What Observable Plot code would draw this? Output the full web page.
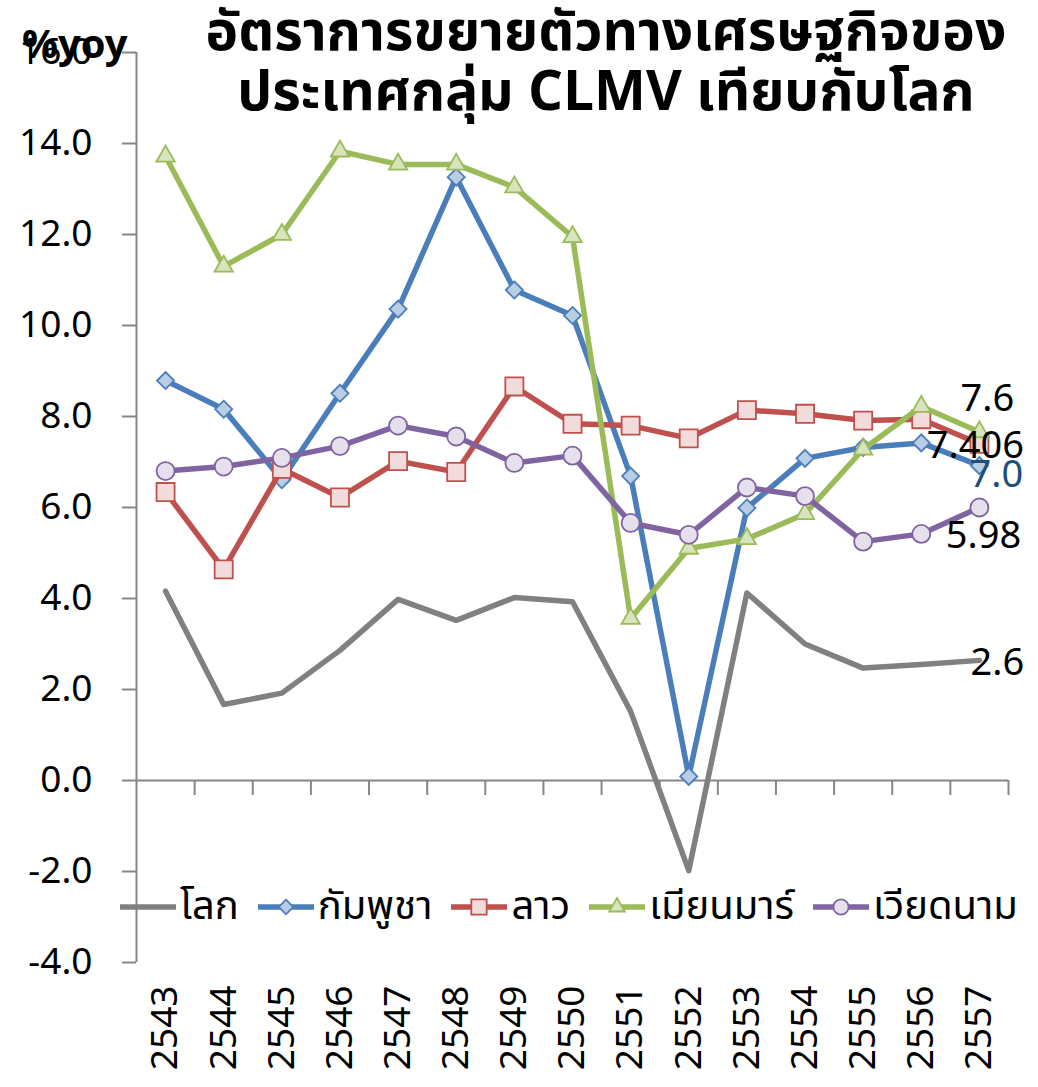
<!DOCTYPE html>
<html><head><meta charset="utf-8">
<script src="https://cdn.jsdelivr.net/npm/d3@7"></script>
<script src="https://cdn.jsdelivr.net/npm/@observablehq/plot@0.6"></script>
<style>
body{margin:0;background:#fff;}
#wrap{position:relative;width:1038px;height:1087px;overflow:hidden;font-family:"Noto Sans Thai","Noto Sans","Open Sans",sans-serif;color:#000;}
#title{position:absolute;left:156px;width:900px;top:4px;text-align:center;font-weight:bold;font-size:55px;line-height:60px;}
#unit{position:absolute;left:22px;top:19px;font-weight:bold;font-size:40px;line-height:54px;}
#legend{position:absolute;left:120px;top:882px;display:flex;align-items:center;font-size:40px;line-height:50px;white-space:nowrap;}
#legend .item{display:flex;align-items:center;margin-right:19px;}
#legend svg{display:block;margin-right:4px;}
</style></head>
<body><div id="wrap"><div id="chart"></div><div id="title"></div><div id="unit"></div><div id="legend"></div></div>
<script>
// ---- data ----
const years = [2543,2544,2545,2546,2547,2548,2549,2550,2551,2552,2553,2554,2555,2556,2557];
const world    = [4.16,1.67,1.92,2.86,3.98,3.52,4.02,3.93,1.52,-1.98,4.12,3.00,2.47,2.55,2.64];
const cambodia = [8.79,8.16,6.61,8.51,10.36,13.26,10.78,10.22,6.69,0.09,5.99,7.08,7.32,7.42,6.92];
const laos     = [6.34,4.64,6.85,6.22,7.02,6.78,8.66,7.84,7.80,7.52,8.14,8.06,7.91,7.94,7.40];
const myanmar  = [13.72,11.30,12.00,13.83,13.54,13.54,13.04,11.95,3.56,5.10,5.31,5.86,7.28,8.22,7.66];
const vietnam  = [6.80,6.90,7.09,7.35,7.80,7.56,6.98,7.14,5.66,5.40,6.44,6.25,5.25,5.42,6.00];
const seriesNames = ["โลก","กัมพูชา","ลาว","เมียนมาร์","เวียดนาม"];
const endLabels = ["2.6","7.0","7.406","7.6","5.98"];
const yTicks = [-4,-2,0,2,4,6,8,10,12,14,16];
const titleLines = ["อัตราการขยายตัวทางเศรษฐกิจของ","ประเทศกลุ่ม CLMV เทียบกับโลก"];
const unitLabel = "%yoy";

// ---- styles ----
const values = [world, cambodia, laos, myanmar, vietnam];
const styles = [
  {line:"#808080", symbol:null, lblColor:"#000", dx:18, dy:2},
  {line:"#4a7ebb", symbol:"diamond2", r:7.7, fill:"#b9cde5", stroke:"#4a7ebb", lblColor:"#1f4e79", dx:17, dy:9},
  {line:"#c0504d", symbol:"square", r:10.2, fill:"#f2dcdb", stroke:"#c0504d", lblColor:"#000", dx:-4, dy:2},
  {line:"#9bbb59", symbol:"triangle", r:6.8, fill:"#d7e4bd", stroke:"#9bbb59", lblColor:"#000", dx:8, dy:-33},
  {line:"#8064a2", symbol:"circle", r:9, fill:"#e6e0ec", stroke:"#8064a2", lblColor:"#000", dx:4, dy:28}
];

const tables = values.map((vals, s) => years.map((yr, i) => ({year: yr, value: vals[i], series: seriesNames[s]})));
const axisGray = "#868686";
const lo = years[0] - 0.5, hi = years[years.length-1] + 0.5;
const boundaries = years.map(y => y + 0.5);

const marks = [
  Plot.ruleX([lo], {stroke: axisGray, strokeWidth: 2}),
  Plot.ruleY([0], {stroke: axisGray, strokeWidth: 2}),
  Plot.ruleX(boundaries, {x: d => d, y1: 0, y2: 0, insetBottom: -15, stroke: axisGray, strokeWidth: 2}),
  Plot.ruleY(yTicks, {y: d => d, x1: lo, x2: lo, insetLeft: -14, stroke: axisGray, strokeWidth: 2}),
  Plot.axisY({ticks: yTicks, tickFormat: d => d.toFixed(1), tickSize: 0, tickPadding: 44, fontSize: 37, fill: "#000", label: null}),
  Plot.axisX({ticks: years, tickFormat: d => String(d), tickRotate: -90, tickSize: 0, tickPadding: 23, fontSize: 37, fill: "#000", label: null})
];
tables.forEach((t, s) => {
  const st = styles[s];
  marks.push(Plot.line(t, {x: "year", y: "value", stroke: st.line, strokeWidth: 5.5, strokeLinejoin: "round", strokeLinecap: "round"}));
  if (st.symbol) marks.push(Plot.dot(t, {x: "year", y: "value", symbol: () => st.symbol, r: st.r, fill: st.fill, stroke: st.stroke, strokeWidth: 1.8}));
});
tables.forEach((t, s) => {
  const st = styles[s];
  marks.push(Plot.text([t[t.length-1]], {x: "year", y: "value", text: () => endLabels[s], fill: st.lblColor, fontSize: 38, dx: st.dx, dy: st.dy}));
});

const chart = Plot.plot({
  width: 1038, height: 1087,
  marginTop: 52, marginBottom: 125, marginLeft: 136, marginRight: 30,
  style: {fontFamily: '"Noto Sans Thai","Open Sans","Noto Sans",sans-serif', background: "#fff", overflow: "visible"},
  x: {domain: [lo, hi], axis: null},
  y: {domain: [-4, 16], axis: null},
  symbol: {type: "identity"},
  marks
});
document.getElementById("chart").appendChild(chart);

document.getElementById("title").innerHTML = titleLines.map(l => `<div>${l}</div>`).join("");
document.getElementById("unit").textContent = unitLabel;

// legend
const legend = document.getElementById("legend");
const symbolTypes = {diamond2: d3.symbolDiamond2, square: d3.symbolSquare, triangle: d3.symbolTriangle, circle: d3.symbolCircle};
const symPath = (name, r) => d3.symbol(symbolTypes[name], Math.PI * r * r)();
seriesNames.forEach((name, s) => {
  const st = styles[s];
  const item = document.createElement("div"); item.className = "item";
  let svg = `<svg width="56" height="30"><line x1="0" x2="56" y1="15" y2="15" stroke="${st.line}" stroke-width="5.5"/>`;
  if (st.symbol) svg += `<path transform="translate(28,15)" d="${symPath(st.symbol, st.r * 0.85)}" fill="${st.fill}" stroke="${st.stroke}" stroke-width="1.8"/>`;
  svg += `</svg>`;
  item.innerHTML = svg + `<span>${name}</span>`;
  legend.appendChild(item);
});
</script>
</body></html>
